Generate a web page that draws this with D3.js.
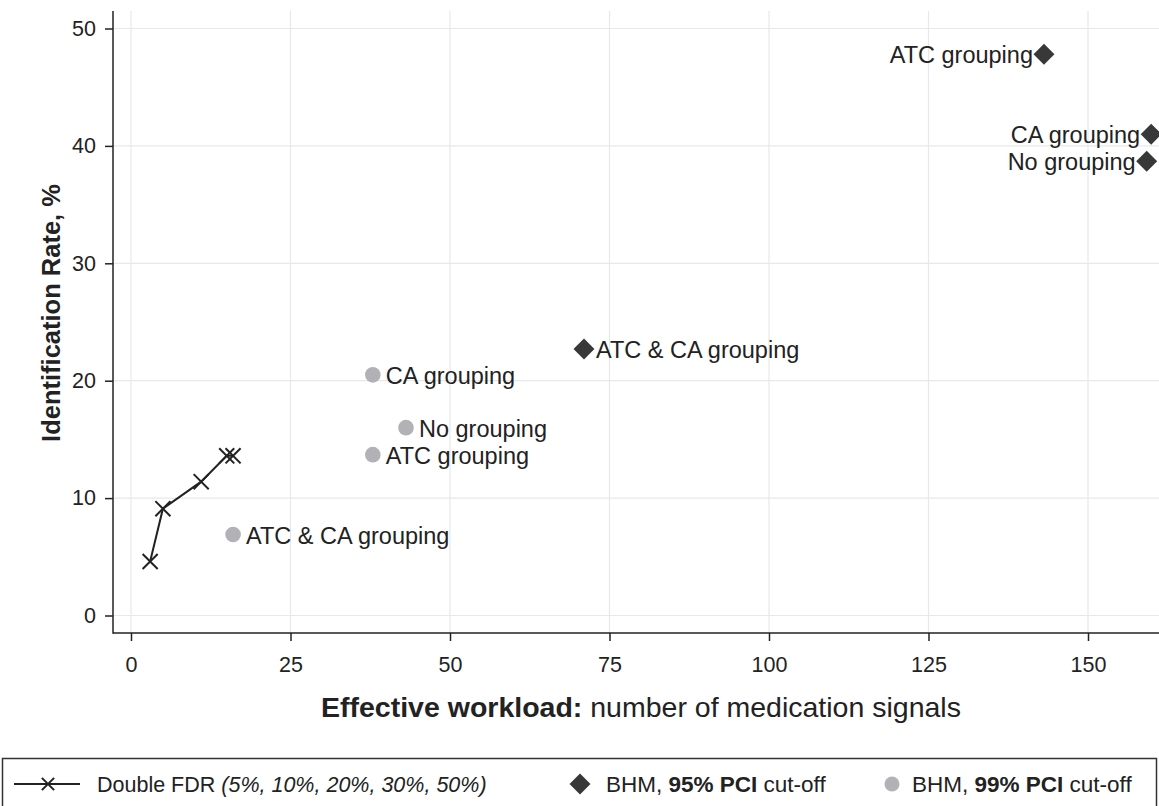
<!DOCTYPE html>
<html>
<head>
<meta charset="utf-8">
<script src="https://cdn.jsdelivr.net/npm/d3@7"></script>
<style>
  html, body { margin: 0; padding: 0; background: #fff; }
  svg { display: block; font-family: "Liberation Sans", Arial, Helvetica, sans-serif; }
</style>
</head>
<body>
<svg id="chart" width="1159" height="806"></svg>
<script>
// ---- data ----
const xTicks = [0, 25, 50, 75, 100, 125, 150];
const yTicks = [0, 10, 20, 30, 40, 50];

const fdrLevels = ["5%", "10%", "20%", "30%", "50%"];
const fdrX = [3, 5, 11, 15, 16];
const fdrY = [4.6, 9.1, 11.4, 13.6, 13.6];

const bhm95Labels = ["ATC grouping", "CA grouping", "No grouping", "ATC & CA grouping"];
const bhm95X = [143.1, 159.9, 159.2, 71.0];
const bhm95Y = [47.8, 41.0, 38.7, 22.7];
const bhm95Side = ["left", "left", "left", "right"];

const bhm99Labels = ["CA grouping", "No grouping", "ATC grouping", "ATC & CA grouping"];
const bhm99X = [37.9, 43.1, 37.9, 16.0];
const bhm99Y = [20.5, 16.0, 13.7, 6.9];

// ---- layout ----
const svg = d3.select("#chart");
const axisLeftX = 113, axisBottomY = 633, plotTop = 11, plotRight = 1159;
const x = d3.scaleLinear().domain([0, 150]).range([131, 1088]);
const y = d3.scaleLinear().domain([0, 50]).range([615.5, 28.5]);

const textColor = "#222";
const diamondColor = "#383838";
const circleColor = "#b2b2b6";
const labelSize = "23.5px";

// gridlines
svg.append("g").selectAll("line.h").data(yTicks).join("line")
  .attr("x1", axisLeftX).attr("x2", plotRight)
  .attr("y1", d => y(d)).attr("y2", d => y(d))
  .attr("stroke", "#e8e8e8").attr("stroke-width", 1.2);
svg.append("g").selectAll("line.v").data(xTicks).join("line")
  .attr("x1", d => x(d)).attr("x2", d => x(d))
  .attr("y1", plotTop).attr("y2", axisBottomY)
  .attr("stroke", "#e8e8e8").attr("stroke-width", 1.2);

// axes
const xAxis = svg.append("g").attr("transform", `translate(0,${axisBottomY})`)
  .call(d3.axisBottom(x).tickValues(xTicks).tickSize(8).tickPadding(16));
const yAxis = svg.append("g").attr("transform", `translate(${axisLeftX},0)`)
  .call(d3.axisLeft(y).tickValues(yTicks).tickSize(8).tickPadding(9));
[xAxis, yAxis].forEach(g => {
  g.select(".domain").remove();
  g.selectAll(".tick line").attr("stroke", "#222").attr("stroke-width", 1.5);
  g.selectAll(".tick text").attr("fill", textColor).style("font-size", "21.5px")
    .style("font-family", "'Liberation Sans', Arial, sans-serif");
});
svg.append("line").attr("x1", axisLeftX).attr("x2", axisLeftX)
  .attr("y1", plotTop).attr("y2", axisBottomY + 0.75)
  .attr("stroke", "#222").attr("stroke-width", 1.5);
svg.append("line").attr("x1", axisLeftX).attr("x2", plotRight)
  .attr("y1", axisBottomY).attr("y2", axisBottomY)
  .attr("stroke", "#222").attr("stroke-width", 1.5);

// axis titles
const xt = svg.append("text").attr("x", 321).attr("y", 717)
  .attr("text-anchor", "start").attr("fill", textColor).style("font-size", "28.5px");
xt.append("tspan").attr("font-weight", "bold").text("Effective workload:");
xt.append("tspan").text(" number of medication signals");

svg.append("text").attr("transform", "translate(60,313) rotate(-90)")
  .attr("text-anchor", "middle").attr("fill", textColor)
  .attr("font-weight", "bold").style("font-size", "25.5px")
  .text("Identification Rate, %");

// FDR line
const fdrData = fdrX.map((v, i) => ({x: v, y: fdrY[i], level: fdrLevels[i]}));
svg.append("path").datum(fdrData)
  .attr("d", d3.line().x(d => x(d.x)).y(d => y(d.y)))
  .attr("fill", "none").attr("stroke", "#222").attr("stroke-width", 2);
const cross = d3.symbol().type(d3.symbolX).size(150);
svg.append("g").selectAll("path").data(fdrData).join("path")
  .attr("transform", d => `translate(${x(d.x)},${y(d.y)})`)
  .attr("d", cross).attr("stroke", "#222").attr("stroke-width", 2).attr("fill", "none");

// BHM 95% diamonds
const d95 = bhm95X.map((v, i) => ({x: v, y: bhm95Y[i], label: bhm95Labels[i], side: bhm95Side[i]}));
const diamond = d3.symbol().type(d3.symbolDiamond2).size(280);
svg.append("g").selectAll("path").data(d95).join("path")
  .attr("transform", d => `translate(${x(d.x)},${y(d.y)})`)
  .attr("d", diamond).attr("fill", diamondColor);
svg.append("g").selectAll("text").data(d95).join("text")
  .attr("x", d => d.side === "left" ? x(d.x) - 11 : x(d.x) + 12)
  .attr("y", d => y(d.y) + 8.5)
  .attr("text-anchor", d => d.side === "left" ? "end" : "start")
  .attr("fill", textColor).style("font-size", labelSize)
  .text(d => d.label);

// BHM 99% circles
const d99 = bhm99X.map((v, i) => ({x: v, y: bhm99Y[i], label: bhm99Labels[i]}));
svg.append("g").selectAll("circle").data(d99).join("circle")
  .attr("cx", d => x(d.x)).attr("cy", d => y(d.y)).attr("r", 7.8)
  .attr("fill", circleColor);
svg.append("g").selectAll("text").data(d99).join("text")
  .attr("x", d => x(d.x) + 13).attr("y", d => y(d.y) + 9.5)
  .attr("fill", textColor).style("font-size", labelSize)
  .text(d => d.label);

// legend
svg.append("rect").attr("x", 2.5).attr("y", 758.5).attr("width", 1154).attr("height", 70)
  .attr("fill", "none").attr("stroke", "#333").attr("stroke-width", 1.5);
const ly = 784;
const legendSize = "22.5px";
svg.append("line").attr("x1", 14).attr("x2", 80).attr("y1", ly).attr("y2", ly)
  .attr("stroke", "#222").attr("stroke-width", 2);
svg.append("path").attr("transform", `translate(48,${ly})`)
  .attr("d", d3.symbol().type(d3.symbolX).size(100))
  .attr("stroke", "#222").attr("stroke-width", 2);
const l1 = svg.append("text").attr("x", 97).attr("y", ly + 8).attr("fill", textColor).style("font-size", "21.5px");
l1.append("tspan").text("Double FDR ");
l1.append("tspan").attr("font-style", "italic").text("(" + fdrLevels.join(", ") + ")");

svg.append("path").attr("transform", `translate(580,${ly})`)
  .attr("d", d3.symbol().type(d3.symbolDiamond2).size(280)).attr("fill", diamondColor);
const l2 = svg.append("text").attr("x", 606).attr("y", ly + 8).attr("fill", textColor).style("font-size", legendSize);
l2.append("tspan").text("BHM, ");
l2.append("tspan").attr("font-weight", "bold").text("95% PCI");
l2.append("tspan").text(" cut-off");

svg.append("circle").attr("cx", 892).attr("cy", ly).attr("r", 7.5).attr("fill", circleColor);
const l3 = svg.append("text").attr("x", 912).attr("y", ly + 8).attr("fill", textColor).style("font-size", legendSize);
l3.append("tspan").text("BHM, ");
l3.append("tspan").attr("font-weight", "bold").text("99% PCI");
l3.append("tspan").text(" cut-off");
</script>
</body>
</html>
